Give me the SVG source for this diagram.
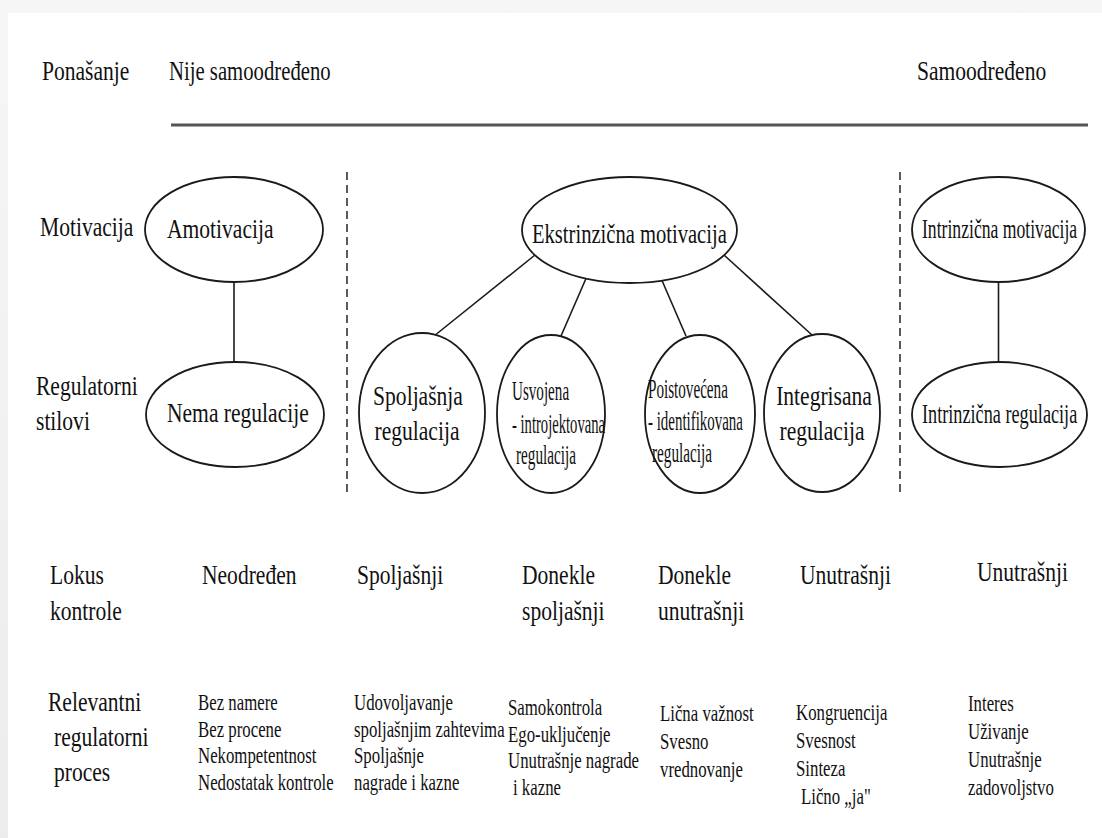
<svg xmlns="http://www.w3.org/2000/svg" width="1102" height="838" viewBox="0 0 1102 838">
  <style>
    text { font-family: "Liberation Serif", "Times New Roman", serif; fill: #111; }
    .t { font-size: 28px; }
    .m { font-size: 27px; }
    .s { font-size: 24px; }
    .node ellipse { fill: #fff; stroke: #1a1a1a; stroke-width: 1.8; }
    .conn line { stroke: #1a1a1a; stroke-width: 1.6; }
    .divider { stroke: #5a5a5a; stroke-width: 2; stroke-dasharray: 8 5; }
  </style>
  <defs>
    <linearGradient id="topShade" x1="0" y1="0" x2="0" y2="1">
      <stop offset="0" stop-color="#f6f6f6"/>
      <stop offset="1" stop-color="#ececec"/>
    </linearGradient>
  </defs>

  <!-- page background and sheet -->
  <rect width="1102" height="838" fill="url(#topShade)"/>
  <rect x="8" y="13" width="1094" height="825" fill="#fff"/>

  <!-- header row -->
  <g id="header">
    <text class="t" transform="translate(42 80) scale(.77 1)">Ponašanje</text>
    <text class="t" transform="translate(169 80) scale(.74 1)">Nije samoodređeno</text>
    <text class="t" transform="translate(917 80) scale(.77 1)">Samoodređeno</text>
    <line x1="171" y1="125" x2="1088" y2="125" stroke="#555" stroke-width="3"/>
  </g>

  <!-- row labels -->
  <g id="row-labels">
    <text class="t" transform="translate(40 236) scale(.77 1)">Motivacija</text>
    <text class="t" transform="translate(36 395) scale(.77 1)">Regulatorni</text>
    <text class="t" transform="translate(36 430) scale(.77 1)">stilovi</text>
    <text class="t" transform="translate(50 584) scale(.77 1)">Lokus</text>
    <text class="t" transform="translate(50 620) scale(.77 1)">kontrole</text>
    <text class="t" transform="translate(48 711) scale(.77 1)">Relevantni</text>
    <text class="t" transform="translate(54 746) scale(.77 1)">regulatorni</text>
    <text class="t" transform="translate(54 781) scale(.77 1)">proces</text>
  </g>

  <!-- column dividers -->
  <g id="dividers">
    <line class="divider" x1="347" y1="172" x2="347" y2="492"/>
    <line class="divider" x1="900" y1="172" x2="900" y2="492"/>
  </g>

  <!-- connectors -->
  <g id="connectors" class="conn">
    <line x1="234" y1="282" x2="234" y2="362"/>
    <line x1="535" y1="255" x2="434" y2="336"/>
    <line x1="586" y1="278.5" x2="561" y2="336"/>
    <line x1="662" y1="280.5" x2="686" y2="336"/>
    <line x1="724" y1="255" x2="812" y2="335"/>
    <line x1="998.5" y1="282" x2="998.5" y2="362"/>
  </g>

  <!-- motivation nodes -->
  <g id="amotivacija" class="node">
    <ellipse cx="234" cy="229.5" rx="89" ry="52.5"/>
    <text class="t" transform="translate(167 238) scale(.77 1)">Amotivacija</text>
  </g>
  <g id="ekstrinzicna-motivacija" class="node">
    <ellipse cx="629.5" cy="230" rx="107.5" ry="53"/>
    <text class="t" transform="translate(532 243) scale(.735 1)">Ekstrinzična motivacija</text>
  </g>
  <g id="intrinzicna-motivacija" class="node">
    <ellipse cx="998.5" cy="229.5" rx="86.5" ry="52.5"/>
    <text class="t" transform="translate(922 238) scale(.63 1)">Intrinzična motivacija</text>
  </g>

  <!-- regulatory style nodes -->
  <g id="nema-regulacije" class="node">
    <ellipse cx="235" cy="414.5" rx="89" ry="52.5"/>
    <text class="t" transform="translate(167 422) scale(.77 1)">Nema regulacije</text>
  </g>
  <g id="spoljasnja-regulacija" class="node">
    <ellipse cx="422" cy="413" rx="63" ry="80"/>
    <text class="t" text-anchor="middle" transform="translate(418 405) scale(.77 1)">Spoljašnja</text>
    <text class="t" text-anchor="middle" transform="translate(417 440) scale(.77 1)">regulacija</text>
  </g>
  <g id="usvojena-regulacija" class="node">
    <ellipse cx="551" cy="414" rx="54" ry="79"/>
    <text class="m" transform="translate(512 400) scale(.56 1)">Usvojena</text>
    <text class="m" transform="translate(512 433) scale(.542 1)">- introjektovana</text>
    <text class="m" transform="translate(516 464) scale(.564 1)">regulacija</text>
  </g>
  <g id="poistovecena-regulacija" class="node">
    <ellipse cx="700" cy="414" rx="55" ry="79"/>
    <text class="m" transform="translate(648 398) scale(.561 1)">Poistovećena</text>
    <text class="m" transform="translate(648 430) scale(.553 1)">- identifikovana</text>
    <text class="m" transform="translate(652 462) scale(.564 1)">regulacija</text>
  </g>
  <g id="integrisana-regulacija" class="node">
    <ellipse cx="822" cy="413" rx="58" ry="79"/>
    <text class="t" text-anchor="middle" transform="translate(824 405) scale(.77 1)">Integrisana</text>
    <text class="t" text-anchor="middle" transform="translate(822 440) scale(.77 1)">regulacija</text>
  </g>
  <g id="intrinzicna-regulacija" class="node">
    <ellipse cx="999.5" cy="414.5" rx="87.5" ry="52.5"/>
    <text class="t" transform="translate(922 423) scale(.651 1)">Intrinzična regulacija</text>
  </g>

  <!-- locus of control row -->
  <g id="lokus">
    <text class="t" transform="translate(202 584) scale(.77 1)">Neodređen</text>
    <text class="t" transform="translate(357 584) scale(.77 1)">Spoljašnji</text>
    <text class="t" transform="translate(522 584) scale(.77 1)">Donekle</text>
    <text class="t" transform="translate(522 620) scale(.77 1)">spoljašnji</text>
    <text class="t" transform="translate(658 584) scale(.77 1)">Donekle</text>
    <text class="t" transform="translate(658 620) scale(.77 1)">unutrašnji</text>
    <text class="t" transform="translate(800 584) scale(.77 1)">Unutrašnji</text>
    <text class="t" transform="translate(977 581) scale(.77 1)">Unutrašnji</text>
  </g>

  <!-- relevant regulatory processes -->
  <g id="procesi">
    <text class="s" transform="translate(198 710) scale(.7 1)">Bez namere</text>
    <text class="s" transform="translate(198 736.5) scale(.7 1)">Bez procene</text>
    <text class="s" transform="translate(198 763) scale(.7 1)">Nekompetentnost</text>
    <text class="s" transform="translate(198 789.5) scale(.7 1)">Nedostatak kontrole</text>

    <text class="s" transform="translate(354 710) scale(.7 1)">Udovoljavanje</text>
    <text class="s" transform="translate(354 736.5) scale(.7 1)">spoljašnjim zahtevima</text>
    <text class="s" transform="translate(354 763) scale(.7 1)">Spoljašnje</text>
    <text class="s" transform="translate(354 789.5) scale(.7 1)">nagrade i kazne</text>

    <text class="s" transform="translate(508 715) scale(.7 1)">Samokontrola</text>
    <text class="s" transform="translate(508 741.5) scale(.7 1)">Ego-uključenje</text>
    <text class="s" transform="translate(508 768) scale(.7 1)">Unutrašnje nagrade</text>
    <text class="s" transform="translate(513 794.5) scale(.7 1)">i kazne</text>

    <text class="s" transform="translate(660 721) scale(.7 1)">Lična važnost</text>
    <text class="s" transform="translate(660 749) scale(.7 1)">Svesno</text>
    <text class="s" transform="translate(660 777) scale(.7 1)">vrednovanje</text>

    <text class="s" transform="translate(796 720) scale(.7 1)">Kongruencija</text>
    <text class="s" transform="translate(796 748) scale(.7 1)">Svesnost</text>
    <text class="s" transform="translate(796 776) scale(.7 1)">Sinteza</text>
    <text class="s" transform="translate(801 804) scale(.7 1)">Lično „ja"</text>

    <text class="s" transform="translate(968 711) scale(.7 1)">Interes</text>
    <text class="s" transform="translate(968 739) scale(.7 1)">Uživanje</text>
    <text class="s" transform="translate(968 767) scale(.7 1)">Unutrašnje</text>
    <text class="s" transform="translate(968 795) scale(.7 1)">zadovoljstvo</text>
  </g>
</svg>
